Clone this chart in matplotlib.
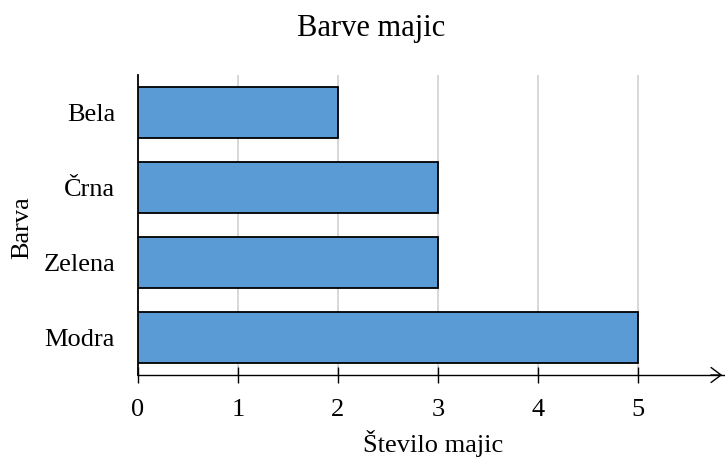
import matplotlib.pyplot as plt

categories = ['Modra', 'Zelena', 'Črna', 'Bela']
values = [5, 3, 3, 2]
xticks = [0, 1, 2, 3, 4, 5]

plt.rcParams['font.family'] = ['Liberation Serif', 'DejaVu Serif']

fig = plt.figure(figsize=(7.25, 4.59), dpi=100)
ax = fig.add_axes([138/725, 1-375/459, (724-138)/725, 300/459])

ypos = range(len(categories))
ax.barh(ypos, values, height=0.667, color='#5b9bd5', edgecolor='black', linewidth=1.3, zorder=3)

ax.set_xlim(0, 5.86)
ax.set_ylim(-0.5, 3.5)

for x in xticks[1:]:
    ax.plot([x, x], [-0.5, 3.5], color='#d4d4d4', linewidth=1.3, zorder=1)

for s in ['top', 'right']:
    ax.spines[s].set_visible(False)
ax.spines['bottom'].set_linewidth(1.0)
ax.spines['left'].set_linewidth(1.3)

ax.annotate('', xy=(5.87, -0.5), xytext=(5.7, -0.5),
            arrowprops=dict(arrowstyle='->,head_length=0.4,head_width=0.3', lw=1.0,
                            color='black', mutation_scale=18),
            annotation_clip=False)

ax.set_xticks(xticks)
ax.set_xticklabels([str(x) for x in xticks])
ax.tick_params(axis='x', direction='inout', length=11, width=1.0, pad=12, labelsize=19)
ax.set_yticks(list(ypos))
ax.set_yticklabels(categories)
ax.tick_params(axis='y', length=0, pad=16.5, labelsize=19)

fig.text(433/725, 1-452/459, 'Število majic', ha='center', va='baseline', fontsize=19)
fig.text(22/725, 1-228/459, 'Barva', ha='center', va='center', rotation=90, fontsize=19)
fig.text(371/725, 1-36/459, 'Barve majic', ha='center', va='baseline', fontsize=22)

fig.savefig('out.png', dpi=100)
